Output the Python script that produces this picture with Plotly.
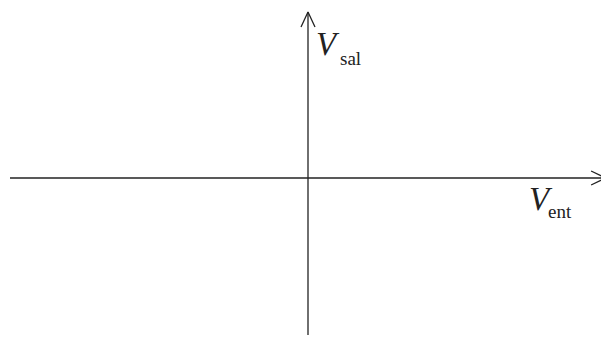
import plotly.graph_objects as go

# axis extents (data units, origin at the crossing point)
x_axis = [-1.0, 1.0]
y_axis = [-0.946, 1.0]

# arrow arm size (data units)
h_arm = [0.05, 0.042]   # horizontal arrow: back, spread
v_arm = [0.0235, 0.09]  # vertical arrow: spread, back

labels = ["V", "V"]
subs = ["sal", "ent"]

W, H = 601, 337
ox, oy = 308, 178
sx, sy = 298, 166

line = dict(color="#222222", width=1.3)
serif = "Liberation Serif"

fig = go.Figure()
# horizontal axis + arrow
fig.add_trace(go.Scatter(x=x_axis, y=[0, 0], mode="lines", line=line))
fig.add_trace(go.Scatter(x=[x_axis[1] - h_arm[0], x_axis[1], x_axis[1] - h_arm[0]],
                         y=[h_arm[1], 0, -h_arm[1]], mode="lines", line=line))
# vertical axis + arrow
fig.add_trace(go.Scatter(x=[0, 0], y=y_axis, mode="lines", line=line))
fig.add_trace(go.Scatter(x=[-v_arm[0], 0, v_arm[0]],
                         y=[y_axis[1] - v_arm[1], y_axis[1], y_axis[1] - v_arm[1]],
                         mode="lines", line=line))


def paper(px, py):
    return px / W, 1 - py / H


# label positions in pixels: (V centre), (subscript centre)
pos = [((328, 44), (350, 59)), ((541, 199), (560, 211))]
for lab, sub, (vp, sp) in zip(labels, subs, pos):
    x, y = paper(*vp)
    fig.add_annotation(x=x, y=y, xref="paper", yref="paper", text="<i>%s</i>" % lab,
                       showarrow=False, xanchor="center", yanchor="middle",
                       font=dict(family=serif, size=33, color="#222222"))
    x, y = paper(*sp)
    fig.add_annotation(x=x, y=y, xref="paper", yref="paper", text=sub,
                       showarrow=False, xanchor="center", yanchor="middle",
                       font=dict(family=serif, size=19, color="#222222"))

fig.update_layout(
    width=W, height=H, margin=dict(l=0, r=0, t=0, b=0),
    paper_bgcolor="white", plot_bgcolor="white", showlegend=False,
    xaxis=dict(range=[-ox / sx, (W - ox) / sx], visible=False, fixedrange=True),
    yaxis=dict(range=[-(H - oy) / sy, oy / sy], visible=False, fixedrange=True),
)
fig.write_html("out.html", config={"displayModeBar": False},
               post_script="document.body.style.margin='0';document.body.style.overflow='hidden';")
